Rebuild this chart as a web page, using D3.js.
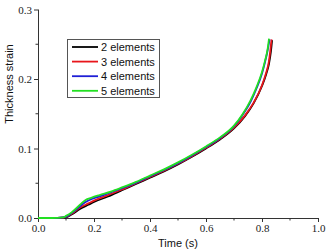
<!DOCTYPE html>
<html><head><meta charset="utf-8">
<script src="https://cdn.jsdelivr.net/npm/d3@7"></script>
<style>body{margin:0;background:#fff}svg{display:block}</style>
</head><body>
<script>
const seriesNames = ["2 elements","3 elements","4 elements","5 elements"];
const seriesColors = ["#000000","#e8161b","#1f1fd6","#22e022"];
const time2 = [0,0.05,0.09,0.1,0.12,0.15,0.18,0.2,0.25,0.3,0.35,0.4,0.45,0.5,0.55,0.6,0.65,0.7,0.74,0.77,0.8,0.815,0.825,0.832,0.836];
const strain2 = [0,0,0.0005,0.001,0.005,0.013,0.019,0.023,0.031,0.040,0.049,0.058,0.067,0.077,0.088,0.100,0.113,0.129,0.147,0.165,0.190,0.207,0.222,0.240,0.256];
const time3 = [0,0.05,0.09,0.1,0.12,0.15,0.18,0.2,0.25,0.3,0.35,0.4,0.45,0.5,0.55,0.6,0.65,0.7,0.74,0.77,0.8,0.814,0.824,0.830,0.834];
const strain3 = [0,0,0.0005,0.0015,0.006,0.015,0.021,0.025,0.033,0.041,0.050,0.059,0.068,0.078,0.089,0.101,0.114,0.130,0.148,0.166,0.191,0.208,0.224,0.242,0.257];
const time4 = [0,0.05,0.09,0.1,0.12,0.15,0.17,0.19,0.22,0.26,0.3,0.35,0.4,0.45,0.5,0.55,0.6,0.65,0.7,0.73,0.76,0.78,0.8,0.81,0.82,0.827];
const strain4 = [0,0,0.001,0.002,0.007,0.017,0.023,0.027,0.031,0.037,0.043,0.051,0.060,0.069,0.079,0.090,0.102,0.115,0.132,0.148,0.168,0.186,0.208,0.223,0.241,0.257];
const time5 = [0,0.05,0.09,0.1,0.12,0.15,0.17,0.19,0.22,0.26,0.3,0.35,0.4,0.45,0.5,0.55,0.6,0.65,0.7,0.73,0.76,0.78,0.8,0.81,0.82,0.825];
const strain5 = [0,0,0.001,0.003,0.008,0.019,0.026,0.029,0.033,0.038,0.044,0.052,0.061,0.070,0.080,0.091,0.103,0.116,0.133,0.149,0.170,0.188,0.210,0.225,0.243,0.258];
const xTicks = [0,0.2,0.4,0.6,0.8,1.0];
const yTicks = [0,0.1,0.2,0.3];
const xTitle = "Time (s)";
const yTitle = "Thickness strain";

const W = 327, H = 250;
const m = {left:38, top:10, right:9, bottom:32};
const svg = d3.select("body").append("svg").attr("width",W).attr("height",H);
const x = d3.scaleLinear().domain([0,1]).range([38,318]);
const y = d3.scaleLinear().domain([0,0.3]).range([218,9.5]);

const tickFont = "'Liberation Serif','Times New Roman',serif";
const sansFont = "'Liberation Sans',Arial,sans-serif";

// minor ticks
const xMinor = d3.range(0.1,1.0,0.2);
const yMinor = [0.05,0.15,0.25];
const gx = svg.append("g").attr("transform",`translate(0,${y(0)})`);
gx.call(d3.axisBottom(x).tickValues(xTicks).tickFormat(d3.format(".1f")).tickSize(4).tickPadding(2));
gx.selectAll(".tick").filter(d=>false);
gx.append("g").selectAll("line").data(xMinor).join("line")
  .attr("x1",d=>x(d)).attr("x2",d=>x(d)).attr("y1",0).attr("y2",2.5).attr("stroke","#333");
const gy = svg.append("g").attr("transform",`translate(${x(0)},0)`);
gy.call(d3.axisLeft(y).tickValues(yTicks).tickFormat(d3.format(".1f")).tickSize(4).tickPadding(2));
gy.append("g").selectAll("line").data(yMinor).join("line")
  .attr("y1",d=>y(d)).attr("y2",d=>y(d)).attr("x1",0).attr("x2",-2.5).attr("stroke","#333");
[gx,gy].forEach(g=>{
  g.select(".domain").attr("stroke","#333").attr("stroke-width",1).attr("d", g===gx ? `M${x(0)},0.5H${x(1)+0.5}` : `M0.5,${y(0)}V${y(0.3)}`);
  g.selectAll(".tick line").attr("stroke","#333");
  g.selectAll(".tick text").attr("font-family",tickFont).attr("font-size",11).attr("fill","#222");
});

const all = [[time2,strain2],[time3,strain3],[time4,strain4],[time5,strain5]];
const line = d3.line().x(d=>x(d[0])).y(d=>y(d[1])).curve(d3.curveMonotoneX);
all.forEach((s,i)=>{
  const pts = s[0].map((t,j)=>[t,s[1][j]]);
  svg.append("path").datum(pts).attr("d",line).attr("fill","none")
    .attr("stroke",seriesColors[i]).attr("stroke-width",1.8);
});

// legend
const lg = svg.append("g");
lg.append("rect").attr("x",67.5).attr("y",39.5).attr("width",92).attr("height",58)
  .attr("fill","#fff").attr("stroke","#555").attr("stroke-width",1);
seriesNames.forEach((n,i)=>{
  const yy = 47 + i*14.6;
  lg.append("line").attr("x1",72).attr("x2",98).attr("y1",yy).attr("y2",yy)
    .attr("stroke",seriesColors[i]).attr("stroke-width",1.8);
  lg.append("text").attr("x",101).attr("y",yy).attr("dy","0.36em")
    .attr("font-family",sansFont).attr("font-size",11).attr("fill","#111").text(n);
});

svg.append("text").attr("x",(x(0)+x(1))/2).attr("y",247).attr("text-anchor","middle")
  .attr("font-family",sansFont).attr("font-size",11).attr("fill","#111").text(xTitle);
svg.append("text").attr("transform","translate(13,84) rotate(-90)").attr("text-anchor","middle")
  .attr("font-family",sansFont).attr("font-size",11).attr("fill","#111").text(yTitle);
</script>
</body></html>
